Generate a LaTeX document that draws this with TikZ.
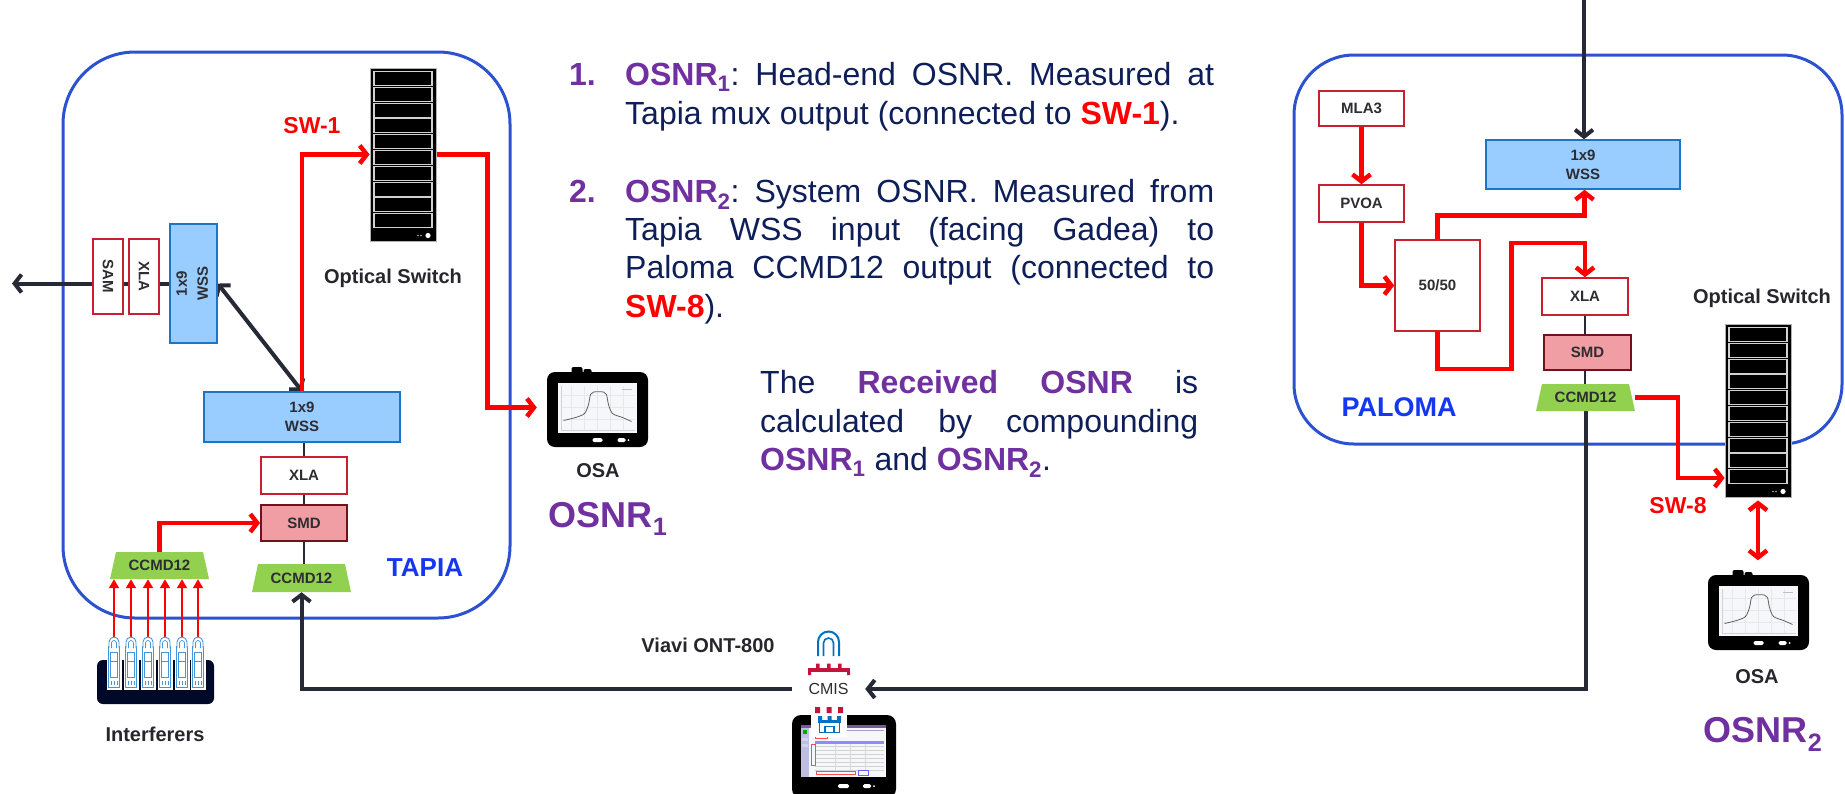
\documentclass[tikz,border=0pt]{standalone}
\usepackage{graphicx}
\usepackage{fontspec}
\setmainfont{Liberation Sans}
\usetikzlibrary{arrows.meta}
\frenchspacing

\definecolor{framebl}{RGB}{45,82,208}
\definecolor{sitebl}{RGB}{20,55,240}
\definecolor{wssfill}{RGB}{153,204,255}
\definecolor{wssedge}{RGB}{28,118,200}
\definecolor{xlaedge}{RGB}{200,32,48}
\definecolor{smdfill}{RGB}{240,158,164}
\definecolor{smdedge}{RGB}{112,18,30}
\definecolor{ccmdgreen}{RGB}{146,208,80}
\definecolor{wire}{RGB}{38,42,54}
\definecolor{fiber}{RGB}{255,0,0}
\definecolor{osnrpurple}{RGB}{112,48,160}
\definecolor{navytext}{RGB}{14,30,88}
\definecolor{labelink}{RGB}{38,38,44}
\definecolor{boxink}{RGB}{45,45,50}
\definecolor{connblue}{RGB}{70,150,215}
\definecolor{rackbase}{RGB}{0,10,40}
\definecolor{cmisred}{RGB}{195,20,60}
\definecolor{cmisblue}{RGB}{0,112,192}
\definecolor{screenbg}{RGB}{246,247,250}
\definecolor{uiviolet}{RGB}{120,90,160}
\definecolor{uilav}{RGB}{190,190,225}

\newcommand{\osnrsub}[1]{\textcolor{osnrpurple}{\bfseries OSNR\textsubscript{#1}}}
\newcommand{\swref}[1]{\textcolor{fiber}{\bfseries #1}}

\pgfdeclarelayer{frame}
\pgfdeclarelayer{wires}
\pgfsetlayers{frame,wires,main}

\tikzset{
  frame/.style={draw=framebl, line width=3pt},
  boxbase/.style={inner sep=0pt, align=center, text=boxink,
    font=\bfseries\fontsize{15}{19}\selectfont},
  redbox/.style={boxbase, draw=xlaedge, line width=1.5pt, fill=white},
  wssbox/.style={boxbase, draw=wssedge, line width=1.5pt, fill=wssfill},
  smdbox/.style={boxbase, draw=smdedge, line width=1.8pt, fill=smdfill},
  ccmdbox/.style={boxbase, fill=white, minimum width=99pt, minimum height=28pt,
    path picture={\fill[ccmdgreen] (path picture bounding box.south west)
      -- (path picture bounding box.south east)
      -- ([xshift=-6pt]path picture bounding box.north east)
      -- ([xshift=6pt]path picture bounding box.north west) -- cycle;}},
  rackswitch/.style={draw=gray!60, line width=0.8pt, fill=black, inner sep=0pt,
    minimum width=66pt, minimum height=173pt,
    path picture={
      \foreach \k in {0,...,9}
        \draw[white!82!black, line width=1.1pt]
          ([xshift=4pt,yshift={-3.5pt-\k*15.8pt}]path picture bounding box.north west)
          rectangle ++(58pt,-14pt);
      \fill[white] ([xshift=-8pt,yshift=5.5pt]path picture bounding box.south east) circle[radius=2.6pt];
      \fill[gray!60] ([xshift=-15pt,yshift=5.5pt]path picture bounding box.south east) circle[radius=0.9pt];
      \fill[gray!60] ([xshift=-18pt,yshift=5.5pt]path picture bounding box.south east) circle[radius=0.9pt];
    }},
  holder/.style={inner sep=0pt, draw=none},
  wirepath/.style={draw=wire, line width=4pt},
  wirearrow/.style={wirepath, -{Straight Barb[length=7pt,width=18pt]}},
  thinwire/.style={draw=wire, line width=2.8pt},
  fiberpath/.style={draw=fiber, line width=4.5pt},
  fiberarrow/.style={fiberpath, -{Straight Barb[length=7pt,width=18pt]}},
  feedarrow/.style={draw=fiber, line width=2pt, -{Triangle[length=9pt,width=10pt]}},
  lbl/.style={inner sep=0pt, anchor=base, text=labelink, font=\bfseries\fontsize{20}{24}\selectfont},
  swlbl/.style={lbl, text=fiber, font=\bfseries\fontsize{23}{27}\selectfont},
  sitelbl/.style={lbl, text=sitebl, font=\bfseries\fontsize{27}{31}\selectfont},
  osnrlbl/.style={lbl, text=osnrpurple, font=\bfseries\fontsize{36}{40}\selectfont},
  para/.style={inner sep=0pt, anchor=base west, text=navytext, font=\fontsize{32}{38}\selectfont},
  paranum/.style={para, text=osnrpurple, font=\bfseries\fontsize{32}{38}\selectfont},
}

% spectrum analyser icon: name, centre x, centre y
\newcommand{\osaicon}[3]{%
  \node[holder, minimum width=101pt, minimum height=80pt] (#1) at (#2,#3) {};
  \begin{scope}[shift={(#2,#3)}]
    \fill[black, rounded corners=2pt] (-26,-40.5) rectangle (-15,-33);
    \fill[black, rounded corners=2pt] (-14,-38.5) rectangle (-6,-33);
    \fill[black, rounded corners=8pt] (-50.5,-35.5) rectangle (50.5,39.5);
    \fill[screenbg] (-39.5,-24.5) rectangle (39.5,25.5);
    \foreach \gx in {-26,-13,0,13,26} \draw[gray!18, line width=0.3pt] (\gx,-22) -- (\gx,23);
    \foreach \gy in {-12,0,12} \draw[gray!18, line width=0.3pt] (-36,\gy) -- (37,\gy);
    \draw[gray!35, line width=0.4pt] (-36,-22) -- (-36,23) -- (37,23);
    \draw[gray!50, line width=0.4pt] (24,-18) -- (34,-18);
    \draw[gray!75!black, line width=0.8pt] plot[smooth] coordinates
      {(-34,13) (-22,10) (-13,6) (-9,-3) (-7,-13) (-4,-15.5) (6,-15.5) (9,-13) (11,-3) (15,6) (25,10) (34,14)};
    \fill[white, rounded corners=1.5pt] (-5,30.5) rectangle (5,34.5);
    \fill[white, rounded corners=1.5pt] (20,30.5) rectangle (28,34.5);
    \fill[white] (31,32.5) circle[radius=1pt];
  \end{scope}}

\begin{document}
\begin{tikzpicture}[x=1pt,y=-1pt]
\useasboundingbox (0,0) rectangle (1845,793);

% ---------- site outlines ----------
\begin{pgfonlayer}{frame}
  \draw[frame, rounded corners=72pt] (63,52) rectangle (510,618);
  \draw[frame, rounded corners=60pt] (1294,55) rectangle (1842,444);
\end{pgfonlayer}

% ---------- TAPIA ----------
\node[rackswitch] (swT) at (403,154.5) {};
\node[wssbox, minimum width=47pt, minimum height=119pt] (wssS) at (193.5,283.5)
  {\rotatebox{90}{\begin{tabular}{@{}c@{}}1x9\\[2pt]WSS\end{tabular}}};
\node[redbox, minimum width=30pt, minimum height=75pt] (samT) at (108,276.5) {\rotatebox{-90}{SAM}};
\node[redbox, minimum width=30pt, minimum height=75pt] (xlaS) at (144,276.5) {\rotatebox{-90}{XLA}};
\coordinate (westout) at (12,283.5);
\node[wssbox, minimum width=196pt, minimum height=50pt] (wssT) at (302,417) {1x9\\WSS};
\node[redbox, minimum width=86pt, minimum height=37pt] (xlaT) at (304,475.5) {XLA};
\node[smdbox, minimum width=86pt, minimum height=36pt] (smdT) at (304,523) {SMD};
\node[ccmdbox] (ccmdT) at (301.5,578) {CCMD12};
\node[ccmdbox, minimum height=27pt] (ccmdI) at (159.5,565.5) {CCMD12};
\osaicon{osaT}{597.5}{407.5}

\node[lbl] (lblOS1) at (393,283) {Optical Switch};
\node[swlbl] (lblSW1) at (312,133) {SW-1};
\node[sitelbl, font=\bfseries\fontsize{26}{30}\selectfont] (lblTapia) at (425,576) {TAPIA};
\node[lbl] (lblOSA1) at (598,477) {OSA};
\node[osnrlbl] (lblOSNR1) at (608,527) {OSNR\textsubscript{1}};

% interferer transceivers in their rack
\node[holder, minimum width=117pt, minimum height=67pt] (intf) at (155.5,670.5) {};
\fill[rackbase, rounded corners=6pt] (97,660) rectangle (214,704);
\foreach \cx [count=\k] in {114,131,148,165,182,198} {
  \node[holder, minimum width=11pt, minimum height=49pt] (cn\k) at (\cx,661.5) {};
  \fill[white] (\cx-7.5,652) rectangle (\cx+7.5,690);
  \draw[connblue, line width=0.9pt, fill=white] (\cx-5.5,646) rectangle (\cx+5.5,687);
  \draw[connblue, line width=0.9pt, fill=white] (\cx-5,648) -- (\cx-5,642)
     arc[start angle=180, end angle=0, radius=5pt] -- (\cx+5,648);
  \draw[connblue, line width=0.7pt] (\cx-2.5,648) -- (\cx-2.5,643)
     arc[start angle=180, end angle=0, radius=2.5pt] -- (\cx+2.5,648);
  \draw[connblue, line width=0.7pt] (\cx-3.5,652) rectangle (\cx+3.5,677);
  \draw[connblue, line width=0.6pt] (\cx-3.5,661) -- (\cx+3.5,661);
  \draw[connblue, line width=0.6pt] (\cx-3,681) -- (\cx-3,685) (\cx,681) -- (\cx,685) (\cx+3,681) -- (\cx+3,685);
}
\node[lbl] (lblIntf) at (155,741) {Interferers};

% ---------- PALOMA ----------
\node[redbox, minimum width=85pt, minimum height=35pt] (mla) at (1361.5,108.5) {MLA3};
\node[redbox, minimum width=85pt, minimum height=37pt] (pvoa) at (1361.5,203.5) {PVOA};
\node[redbox, minimum width=85pt, minimum height=91pt] (split) at (1437.5,285.5) {50/50};
\node[wssbox, minimum width=194pt, minimum height=49pt] (wssP) at (1583,164.5) {1x9\\WSS};
\node[redbox, minimum width=86pt, minimum height=37pt] (xlaP) at (1585,296.5) {XLA};
\node[smdbox, minimum width=87pt, minimum height=35pt] (smdP) at (1587.5,352.5) {SMD};
\node[ccmdbox, minimum height=27pt] (ccmdP) at (1585.5,397.5) {CCMD12};
\node[rackswitch] (swP) at (1758,410.5) {};
\osaicon{osaP}{1758.5}{610.5}
\coordinate (northin) at (1584,0);

\node[sitelbl] (lblPaloma) at (1399,416) {PALOMA};
\node[lbl] (lblOS2) at (1762,303) {Optical Switch};
\node[swlbl] (lblSW8) at (1678,513) {SW-8};
\node[lbl] (lblOSA2) at (1757,683) {OSA};
\node[osnrlbl] (lblOSNR2) at (1763,742) {OSNR\textsubscript{2}};

% ---------- test set with CMIS module ----------
\node[holder, minimum width=104pt, minimum height=80pt] (viavi) at (844,755) {};
\fill[black, rounded corners=9pt] (792,715) rectangle (896,798);
\fill[screenbg] (801,725) rectangle (886,777);
\fill[uilav] (801,727) rectangle (809,777);
\fill[uiviolet] (801,725) rectangle (886,727.5);
\fill[green!65!black] (802.5,729.5) rectangle (806.5,733.5);
\fill[uilav!70!white] (802,738) rectangle (808,741) (802,744) rectangle (808,747);
\fill[uiviolet!60!white] (812,729.5) rectangle (884,731);
\fill[blue!45] (815,741) rectangle (884,743.5);
\foreach \ry in {746,750,...,770} \draw[gray!35, line width=0.4pt] (815,\ry) -- (884,\ry);
\foreach \rx in {835,850,865} \draw[gray!30, line width=0.3pt] (\rx,743.5) -- (\rx,770);
\draw[red!70, line width=0.5pt] (815,733) rectangle (827,738);
\draw[red!70, line width=0.5pt] (811,744) rectangle (815,765);
\draw[red!70, line width=0.5pt] (816,771) rectangle (855,774.5);
\draw[blue!60, line width=0.5pt] (858,770) rectangle (868,775);
\fill[white, rounded corners=1.5pt] (838,784) rectangle (849,788);
\fill[white, rounded corners=1.5pt] (863,784) rectangle (871,788);
\fill[white] (874,786) circle[radius=1pt];

\draw[cmisblue, line width=2pt] (818,656) -- (818,642)
  arc[start angle=180, end angle=0, radius=10.5pt] -- (839,656);
\draw[cmisblue, line width=1.6pt] (823.5,656) -- (823.5,643)
  arc[start angle=180, end angle=0, radius=5pt] -- (833.5,656);
\fill[cmisred] (808,667.5) rectangle (850,671.5);
\fill[cmisred] (816,663.5) rectangle (819.5,668) (827,663.5) rectangle (830.5,668) (838,663.5) rectangle (841.5,668);
\fill[cmisred] (808,671) rectangle (811,675) (847,671) rectangle (850,675);
\node[holder, minimum width=73pt, minimum height=20pt, text=boxink,
  font=\fontsize{16}{19}\selectfont] (cmis) at (828.5,689) {CMIS};
\fill[cmisred] (815,707) rectangle (820,713) (826.5,707) rectangle (831.5,713) (838,707) rectangle (843,713);
\fill[white] (811,714) rectangle (847,737);
\fill[cmisblue] (818,716) rectangle (822,720) (827.5,716) rectangle (831.5,720) (837,716) rectangle (841,720);
\fill[cmisblue] (818,720) rectangle (841,722.5);
\draw[cmisblue, line width=1.5pt] (819.5,722) -- (819.5,732.5) -- (839.5,732.5) -- (839.5,722);
\draw[cmisblue, line width=1.2pt] (825,732.5) -- (825,726.5) -- (834,726.5) -- (834,732.5);
\node[lbl] (lblViavi) at (708,652) {Viavi ONT-800};

% ---------- description ----------
\node[paranum] (n1) at (569,85) {1.};
\node[para] (p1a) at (625,85) {\makebox[589pt][s]{\osnrsub{1}: Head-end OSNR. Measured at}};
\node[para] (p1b) at (625,124) {Tapia mux output (connected to \swref{SW-1}).};
\node[paranum] (n2) at (569,202) {2.};
\node[para] (p2a) at (625,202) {\makebox[589pt][s]{\osnrsub{2}: System OSNR. Measured from}};
\node[para] (p2b) at (625,240) {\makebox[589pt][s]{Tapia WSS input (facing Gadea) to}};
\node[para] (p2c) at (625,278) {\makebox[589pt][s]{Paloma CCMD12 output (connected to}};
\node[para] (p2d) at (625,317) {\swref{SW-8}).};
\node[para] (p3a) at (760,393) {\makebox[438pt][s]{The \textcolor{osnrpurple}{\bfseries Received} \textcolor{osnrpurple}{\bfseries OSNR} is}};
\node[para] (p3b) at (760,432) {\makebox[438pt][s]{calculated by compounding}};
\node[para] (p3c) at (760,470) {\osnrsub{1} and \osnrsub{2}.};

% ---------- connections ----------
\begin{pgfonlayer}{wires}
  % TAPIA
  \draw[wirearrow] (wssS.west) -- (westout);
  \draw[wirepath, {Straight Barb[length=7pt,width=18pt]}-{Straight Barb[length=7pt,width=18pt]}] (wssS.east) -- (wssT.north);
  \draw[thinwire] (xlaT.north |- wssT.south) -- (xlaT.north);
  \draw[thinwire] (xlaT.south) -- (smdT.north);
  \draw[thinwire] (smdT.south) -- (smdT.south |- ccmdT.north);
  \draw[fiberarrow] (wssT.north) |- (swT.west);
  \draw[fiberarrow, shorten >=10pt] (swT.east) -- ++(51,0) |- (osaT.west);
  \draw[fiberarrow] (ccmdI.north) |- (smdT.west);
  \foreach \k in {1,...,6} \draw[feedarrow] (cn\k.north) -- (cn\k.north |- ccmdI.south);
  % PALOMA
  \draw[wirearrow] (northin) -- (northin |- wssP.north);
  \draw[fiberarrow] (mla.south) -- (pvoa.north);
  \draw[fiberarrow] (pvoa.south) |- (split.west);
  \draw[fiberarrow] (split.north) -- ++(0,-24) -| ([xshift=1.5pt]wssP.south);
  \draw[fiberarrow] (split.south) -- ++(0,37) -| ++(74,-126) -| (xlaP.north);
  \draw[thinwire] (xlaP.south) -- (xlaP.south |- smdP.north);
  \draw[thinwire] (xlaP.south |- smdP.south) -- (xlaP.south |- ccmdP.north);
  \draw[fiberarrow] (ccmdP.east) -- ++(43,0) |- ([yshift=-67.5pt]swP.west);
  \draw[fiberpath, {Straight Barb[length=7pt,width=18pt]}-{Straight Barb[length=7pt,width=18pt]},
        shorten <=3pt, shorten >=10pt] (swP.south) -- (swP.south |- osaP.north);
  % link through the test set
  \draw[wirearrow] (ccmdP.south) |- (cmis.east);
  \draw[wirearrow] (cmis.west) -| (ccmdT.south);
\end{pgfonlayer}
\end{tikzpicture}
\end{document}
